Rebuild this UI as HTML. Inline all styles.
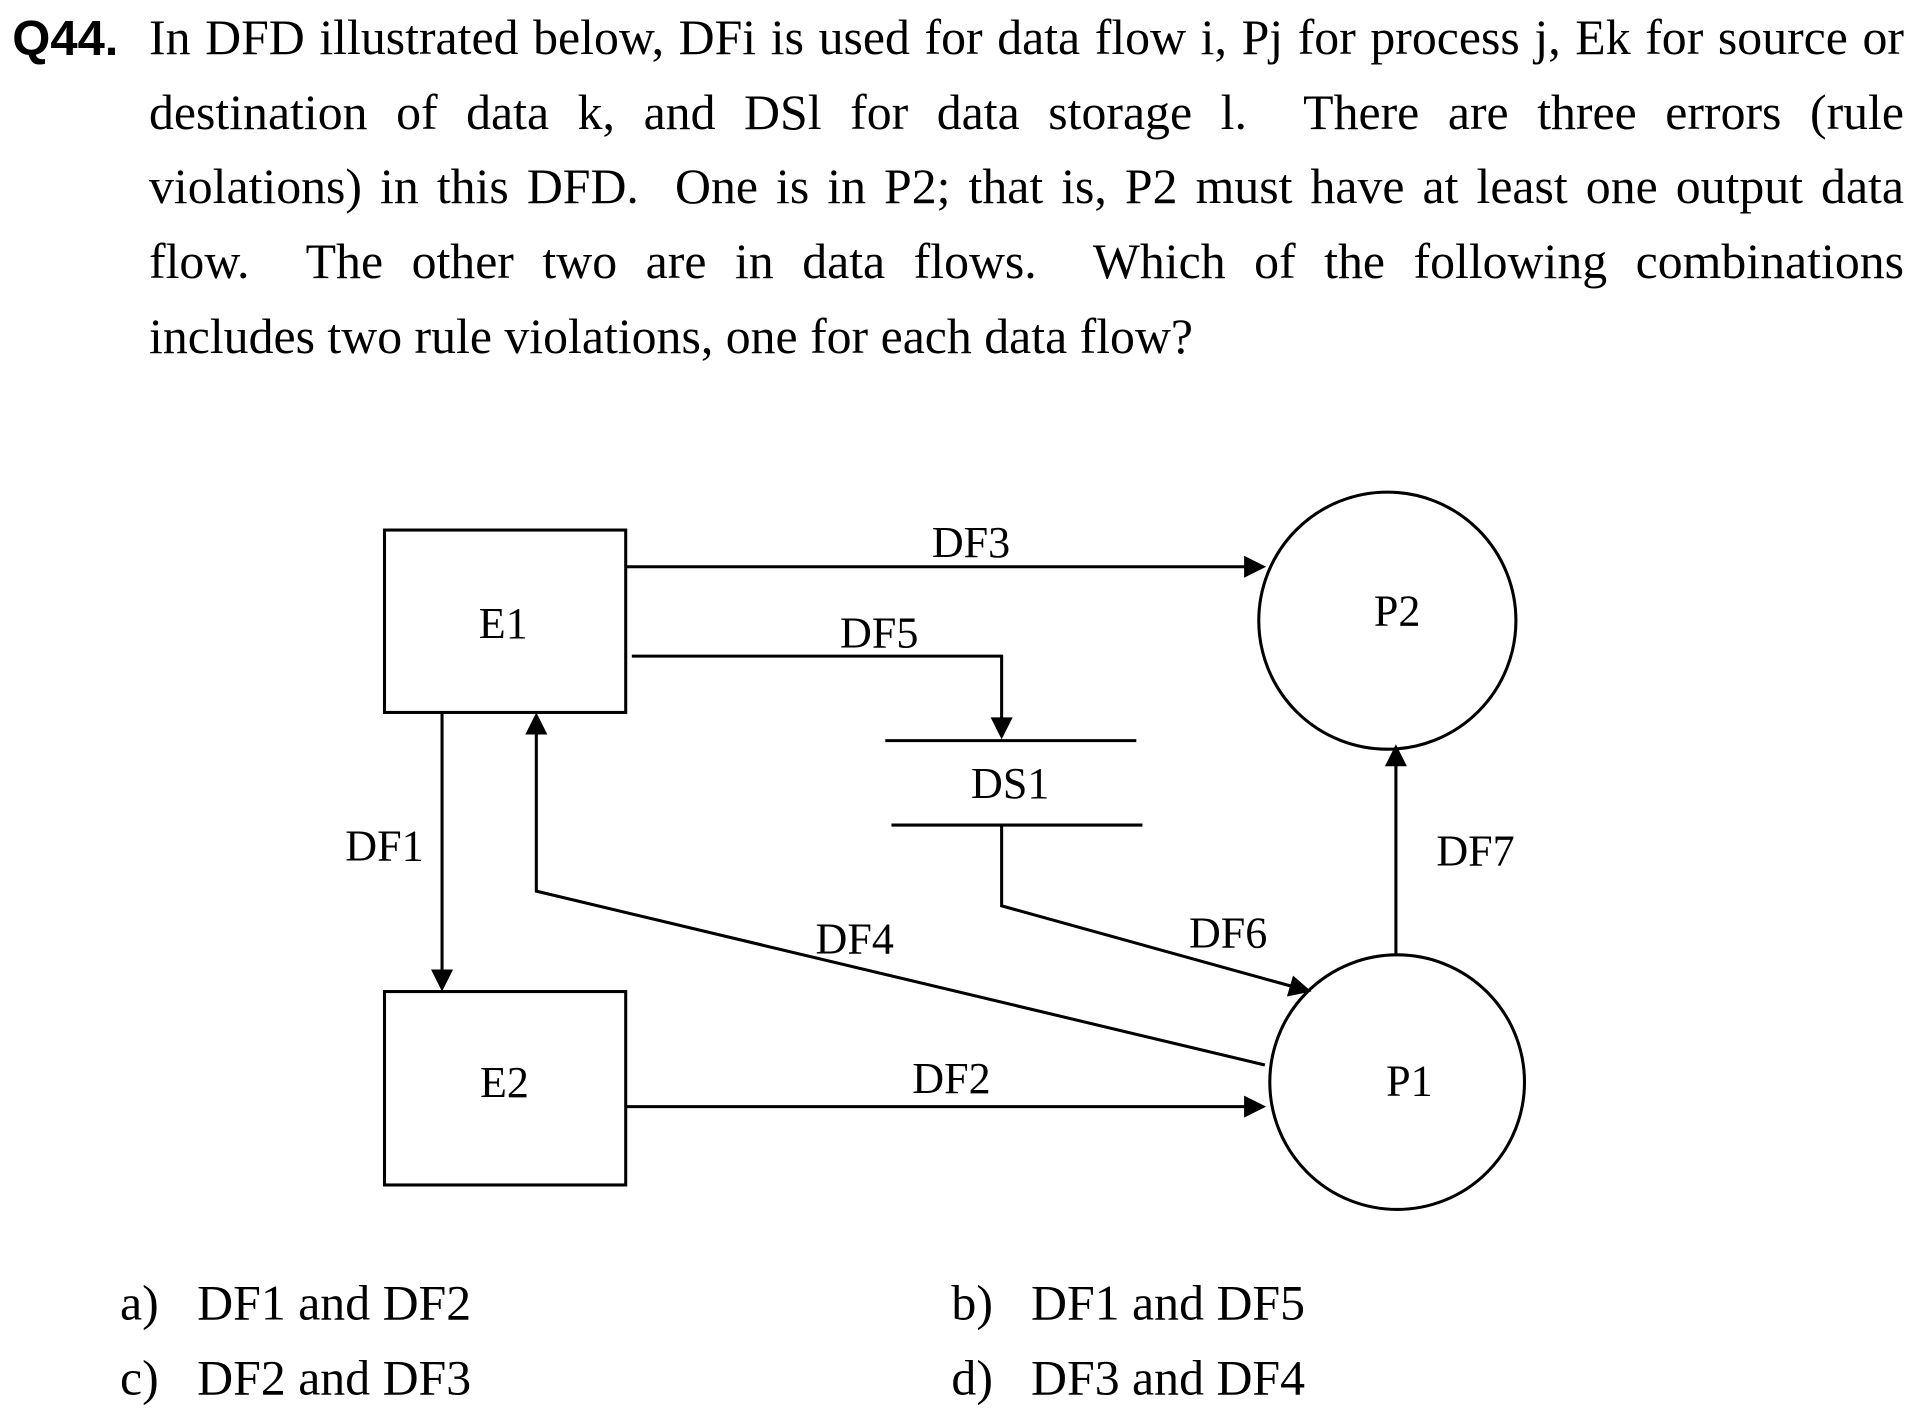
<!DOCTYPE html>
<html><head><meta charset="utf-8">
<style>
html,body{margin:0;padding:0;background:#fff;}
body{position:relative;width:1920px;height:1420px;overflow:hidden;}
svg{display:block;position:absolute;left:0;top:0;}
.t{font-family:"Liberation Serif",serif;font-size:40.7px;fill:#000;}
.d{font-family:"Liberation Serif",serif;font-size:36px;fill:#000;}
.ln{stroke:#000;stroke-width:2.5;fill:none;}
#q{position:absolute;left:149px;top:1px;width:1755px;font-family:"Liberation Serif",serif;font-size:49.8px;line-height:74.7px;color:#000;}
#q div{white-space:nowrap;text-align:justify;text-align-last:justify;}
#q div.last{text-align-last:left;}
</style></head>
<body>
<svg width="1920" height="1420" viewBox="0 0 1568 1160" preserveAspectRatio="none">
<text x="10" y="45" style="font-family:'Liberation Sans',sans-serif;font-weight:bold;font-size:40px">Q44.</text>
<g>
<rect class="ln" x="314" y="433" width="197" height="149"/>
<text class="d" x="411" y="521" text-anchor="middle">E1</text>
<rect class="ln" x="314" y="810" width="197" height="158"/>
<text class="d" x="412" y="896" text-anchor="middle">E2</text>
<circle class="ln" cx="1133" cy="507" r="105"/>
<text class="d" x="1141" y="511" text-anchor="middle">P2</text>
<circle class="ln" cx="1141" cy="884" r="104"/>
<text class="d" x="1151" y="895" text-anchor="middle">P1</text>
<line class="ln" x1="723" y1="605" x2="928" y2="605"/>
<line class="ln" x1="728" y1="674" x2="933" y2="674"/>
<text class="d" x="825" y="652" text-anchor="middle">DS1</text>

<polyline class="ln" points="511,463 1018,463"/>
<polygon points="1034,463 1016,454 1016,472"/>
<text class="d" x="793" y="455" text-anchor="middle">DF3</text>

<polyline class="ln" points="516,536 818,536 818,588"/>
<polygon points="818,604 809,586 827,586"/>
<text class="d" x="718" y="529" text-anchor="middle">DF5</text>

<polyline class="ln" points="361,582 361,794"/>
<polygon points="361,810 352,792 370,792"/>
<text class="d" x="314" y="703" text-anchor="middle">DF1</text>

<polyline class="ln" points="1033,870 438,728 438,598"/>
<polygon points="438,582 429,600 447,600"/>
<text class="d" x="698" y="779" text-anchor="middle">DF4</text>

<polyline class="ln" points="818,674 818,740 1056,806"/>
<polygon points="1071,810 1056,797 1051,814"/>
<text class="d" x="1003" y="774" text-anchor="middle">DF6</text>

<polyline class="ln" points="511,904 1018,904"/>
<polygon points="1034,904 1016,895 1016,913"/>
<text class="d" x="777" y="893" text-anchor="middle">DF2</text>

<polyline class="ln" points="1140,780 1140,624"/>
<polygon points="1140,608 1131,626 1149,626"/>
<text class="d" x="1205" y="707" text-anchor="middle">DF7</text>
</g>
<g>
<text class="t" x="98" y="1078">a)</text>
<text class="t" x="161" y="1078">DF1 and DF2</text>
<text class="t" x="98" y="1139">c)</text>
<text class="t" x="161" y="1139">DF2 and DF3</text>
<text class="t" x="777" y="1078">b)</text>
<text class="t" x="842" y="1078">DF1 and DF5</text>
<text class="t" x="777" y="1139">d)</text>
<text class="t" x="842" y="1139">DF3 and DF4</text>
</g>
</svg>
<div id="q">
<div>In DFD illustrated below, DFi is used for data flow i, Pj for process j, Ek for source or</div>
<div>destination of data k, and DSl for data storage l.&nbsp; There are three errors (rule</div>
<div>violations) in this DFD.&nbsp; One is in P2; that is, P2 must have at least one output data</div>
<div>flow.&nbsp; The other two are in data flows.&nbsp; Which of the following combinations</div>
<div class="last">includes two rule violations, one for each data flow?</div>
</div>
</body></html>
